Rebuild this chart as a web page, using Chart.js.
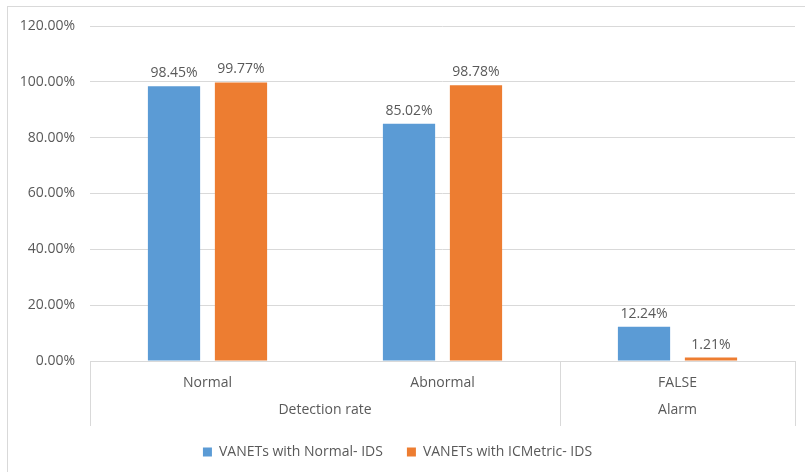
<!DOCTYPE html>
<html>
<head>
<meta charset="utf-8">
<script src="https://cdn.jsdelivr.net/npm/chart.js@4"></script>
<style>
    html, body { margin: 0; padding: 0; background: #fff; overflow: hidden; }
    #wrap { position: relative; width: 805px; height: 472px; }
    #frame {
        position: absolute; left: 7px; top: 6px; width: 820px; height: 480px;
        border: 1px solid #d9d9d9; pointer-events: none;
    }
    canvas { position: absolute; left: 0; top: 0; }
</style>
</head>
<body>
<div id="wrap">
    <canvas id="chart" width="805" height="472"></canvas>
    <div id="frame"></div>
</div>
<script>
// categories and their outer group
const categories = ["Normal", "Abnormal", "FALSE"];
const groups = [
    { label: "Detection rate", from: 0, to: 1 },
    { label: "Alarm", from: 2, to: 2 }
];

// values in percent
const normalIds   = [98.45, 85.02, 12.24];
const icmetricIds = [99.77, 98.78, 1.21];

const seriesNames = ["VANETs with Normal- IDS", "VANETs with ICMetric- IDS"];
const TEXT = "#595959";
const GRID = "#d9d9d9";
const FONT = "'Open Sans', 'Noto Sans', sans-serif";
const AXIS_H = 65;

// value labels above each bar
const valueLabels = {
    id: "valueLabels",
    afterDatasetsDraw(chart) {
        const ctx = chart.ctx;
        ctx.save();
        ctx.font = "14px " + FONT;
        ctx.fillStyle = TEXT;
        ctx.textAlign = "center";
        ctx.textBaseline = "bottom";
        chart.data.datasets.forEach((ds, i) => {
            chart.getDatasetMeta(i).data.forEach((bar, j) => {
                ctx.fillText(ds.data[j].toFixed(2) + "%", bar.x, bar.y - 6);
            });
        });
        ctx.restore();
    }
};

// group labels and separators under the category axis
const groupAxis = {
    id: "groupAxis",
    afterDraw(chart) {
        const ctx = chart.ctx;
        const x = chart.scales.x;
        const half = (x.getPixelForValue(1) - x.getPixelForValue(0)) / 2;
        const top = chart.chartArea.bottom;
        const bottom = top + AXIS_H;
        ctx.save();
        ctx.strokeStyle = GRID;
        ctx.lineWidth = 1;
        ctx.font = "14px " + FONT;
        ctx.fillStyle = TEXT;
        ctx.textAlign = "center";
        ctx.textBaseline = "middle";

        const edges = [x.getPixelForValue(0) - half];
        groups.forEach(g => {
            const l = x.getPixelForValue(g.from) - half;
            const r = x.getPixelForValue(g.to) + half;
            edges.push(r);
            ctx.fillText(g.label, (l + r) / 2, top + 49);
        });

        // baseline and separators
        ctx.beginPath();
        ctx.moveTo(chart.chartArea.left, top + 0.5);
        ctx.lineTo(chart.chartArea.right, top + 0.5);
        edges.forEach(e => {
            const px = Math.round(e) + 0.5;
            ctx.moveTo(px, top);
            ctx.lineTo(px, bottom);
        });
        ctx.stroke();
        ctx.restore();
    }
};

new Chart(document.getElementById("chart"), {
    type: "bar",
    data: {
        labels: categories,
        datasets: [
            {
                label: seriesNames[0],
                data: normalIds,
                backgroundColor: "#5b9bd5",
                barPercentage: 0.78,
                categoryPercentage: 0.57
            },
            {
                label: seriesNames[1],
                data: icmetricIds,
                backgroundColor: "#ed7d31",
                barPercentage: 0.78,
                categoryPercentage: 0.57
            }
        ]
    },
    options: {
        responsive: false,
        animation: false,
        layout: { padding: { left: 0, right: 10, top: 26, bottom: 3 } },
        plugins: {
            legend: {
                position: "bottom",
                labels: {
                    color: TEXT,
                    font: { family: FONT, size: 14 },
                    boxWidth: 9,
                    boxHeight: 9,
                    padding: 24
                }
            },
            tooltip: { enabled: false }
        },
        scales: {
            x: {
                grid: { display: false },
                border: { display: false },
                ticks: {
                    color: TEXT,
                    font: { family: FONT, size: 14 },
                    padding: 6
                },
                afterFit(scale) { scale.height = 60; }
            },
            y: {
                min: 0,
                max: 120,
                grid: { color: GRID, drawTicks: false },
                border: { display: false },
                ticks: {
                    stepSize: 20,
                    color: TEXT,
                    font: { family: FONT, size: 14 },
                    padding: 15,
                    callback: v => v.toFixed(2) + "%"
                },
                afterFit(scale) { scale.width = 90; }
            }
        }
    },
    plugins: [valueLabels, groupAxis]
});
</script>
</body>
</html>
